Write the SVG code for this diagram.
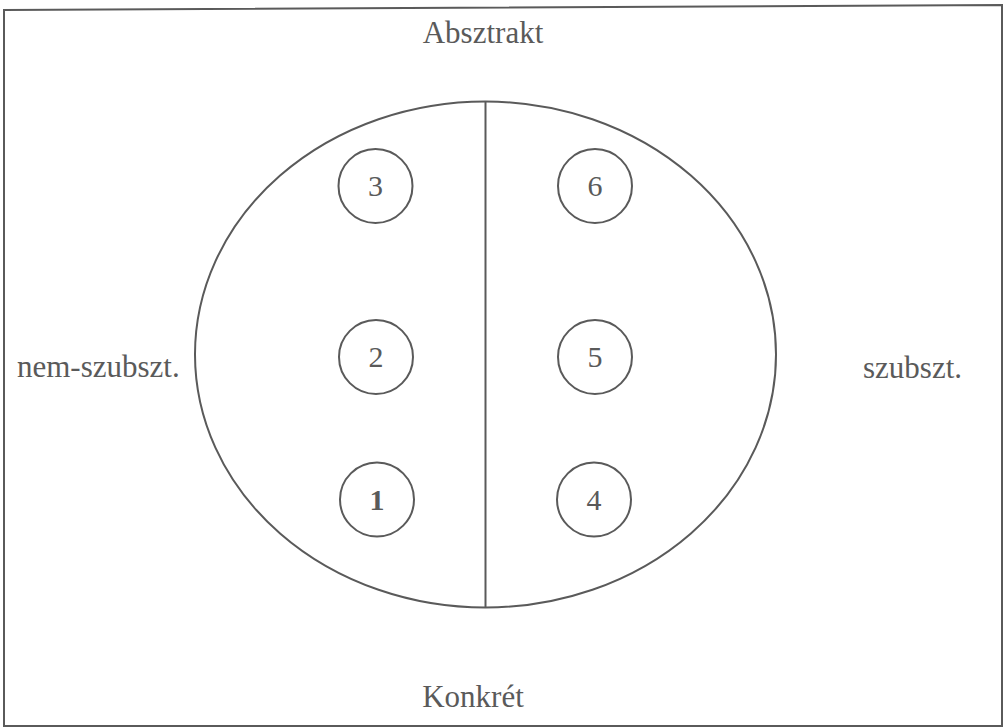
<svg xmlns="http://www.w3.org/2000/svg" width="1007" height="728" viewBox="0 0 1007 728">
<style>
.ln{fill:none;stroke:#5a5a5a;stroke-width:2}
.t{font-family:"Liberation Serif","Times New Roman",serif;font-size:31px;fill:#5a5a5a}
.n{font-family:"Liberation Serif","Times New Roman",serif;font-size:30px;fill:#5a5a5a;text-anchor:middle}
</style>
<rect width="1007" height="728" fill="#ffffff"/>
<polygon class="ln" points="4,10 1002,5 1002,726 4,726"/>
<g id="frame">
<ellipse class="ln" cx="485.5" cy="354.5" rx="290.5" ry="253"/>
<line class="ln" x1="485.5" y1="101" x2="485.5" y2="608"/>
</g>
<g id="labels">
<text class="t" x="483" y="43" text-anchor="middle">Absztrakt</text>
<text class="t" x="17" y="377">nem-szubszt.</text>
<text class="t" x="863" y="378">szubszt.</text>
<text class="t" x="473" y="707" text-anchor="middle">Konkrét</text>
</g>
<g id="n3"><circle class="ln" cx="375.5" cy="186" r="37"/><text class="n" x="375.5" y="196">3</text></g>
<g id="n6"><circle class="ln" cx="595" cy="186" r="37"/><text class="n" x="595" y="196">6</text></g>
<g id="n2"><circle class="ln" cx="376" cy="357" r="37"/><text class="n" x="376" y="367">2</text></g>
<g id="n5"><circle class="ln" cx="595" cy="357" r="37"/><text class="n" x="595" y="367">5</text></g>
<g id="n1"><circle class="ln" cx="377" cy="499.5" r="37"/><text class="n" x="377" y="510" font-weight="bold">1</text></g>
<g id="n4"><circle class="ln" cx="594" cy="499.5" r="37"/><text class="n" x="594" y="510">4</text></g>
</svg>
